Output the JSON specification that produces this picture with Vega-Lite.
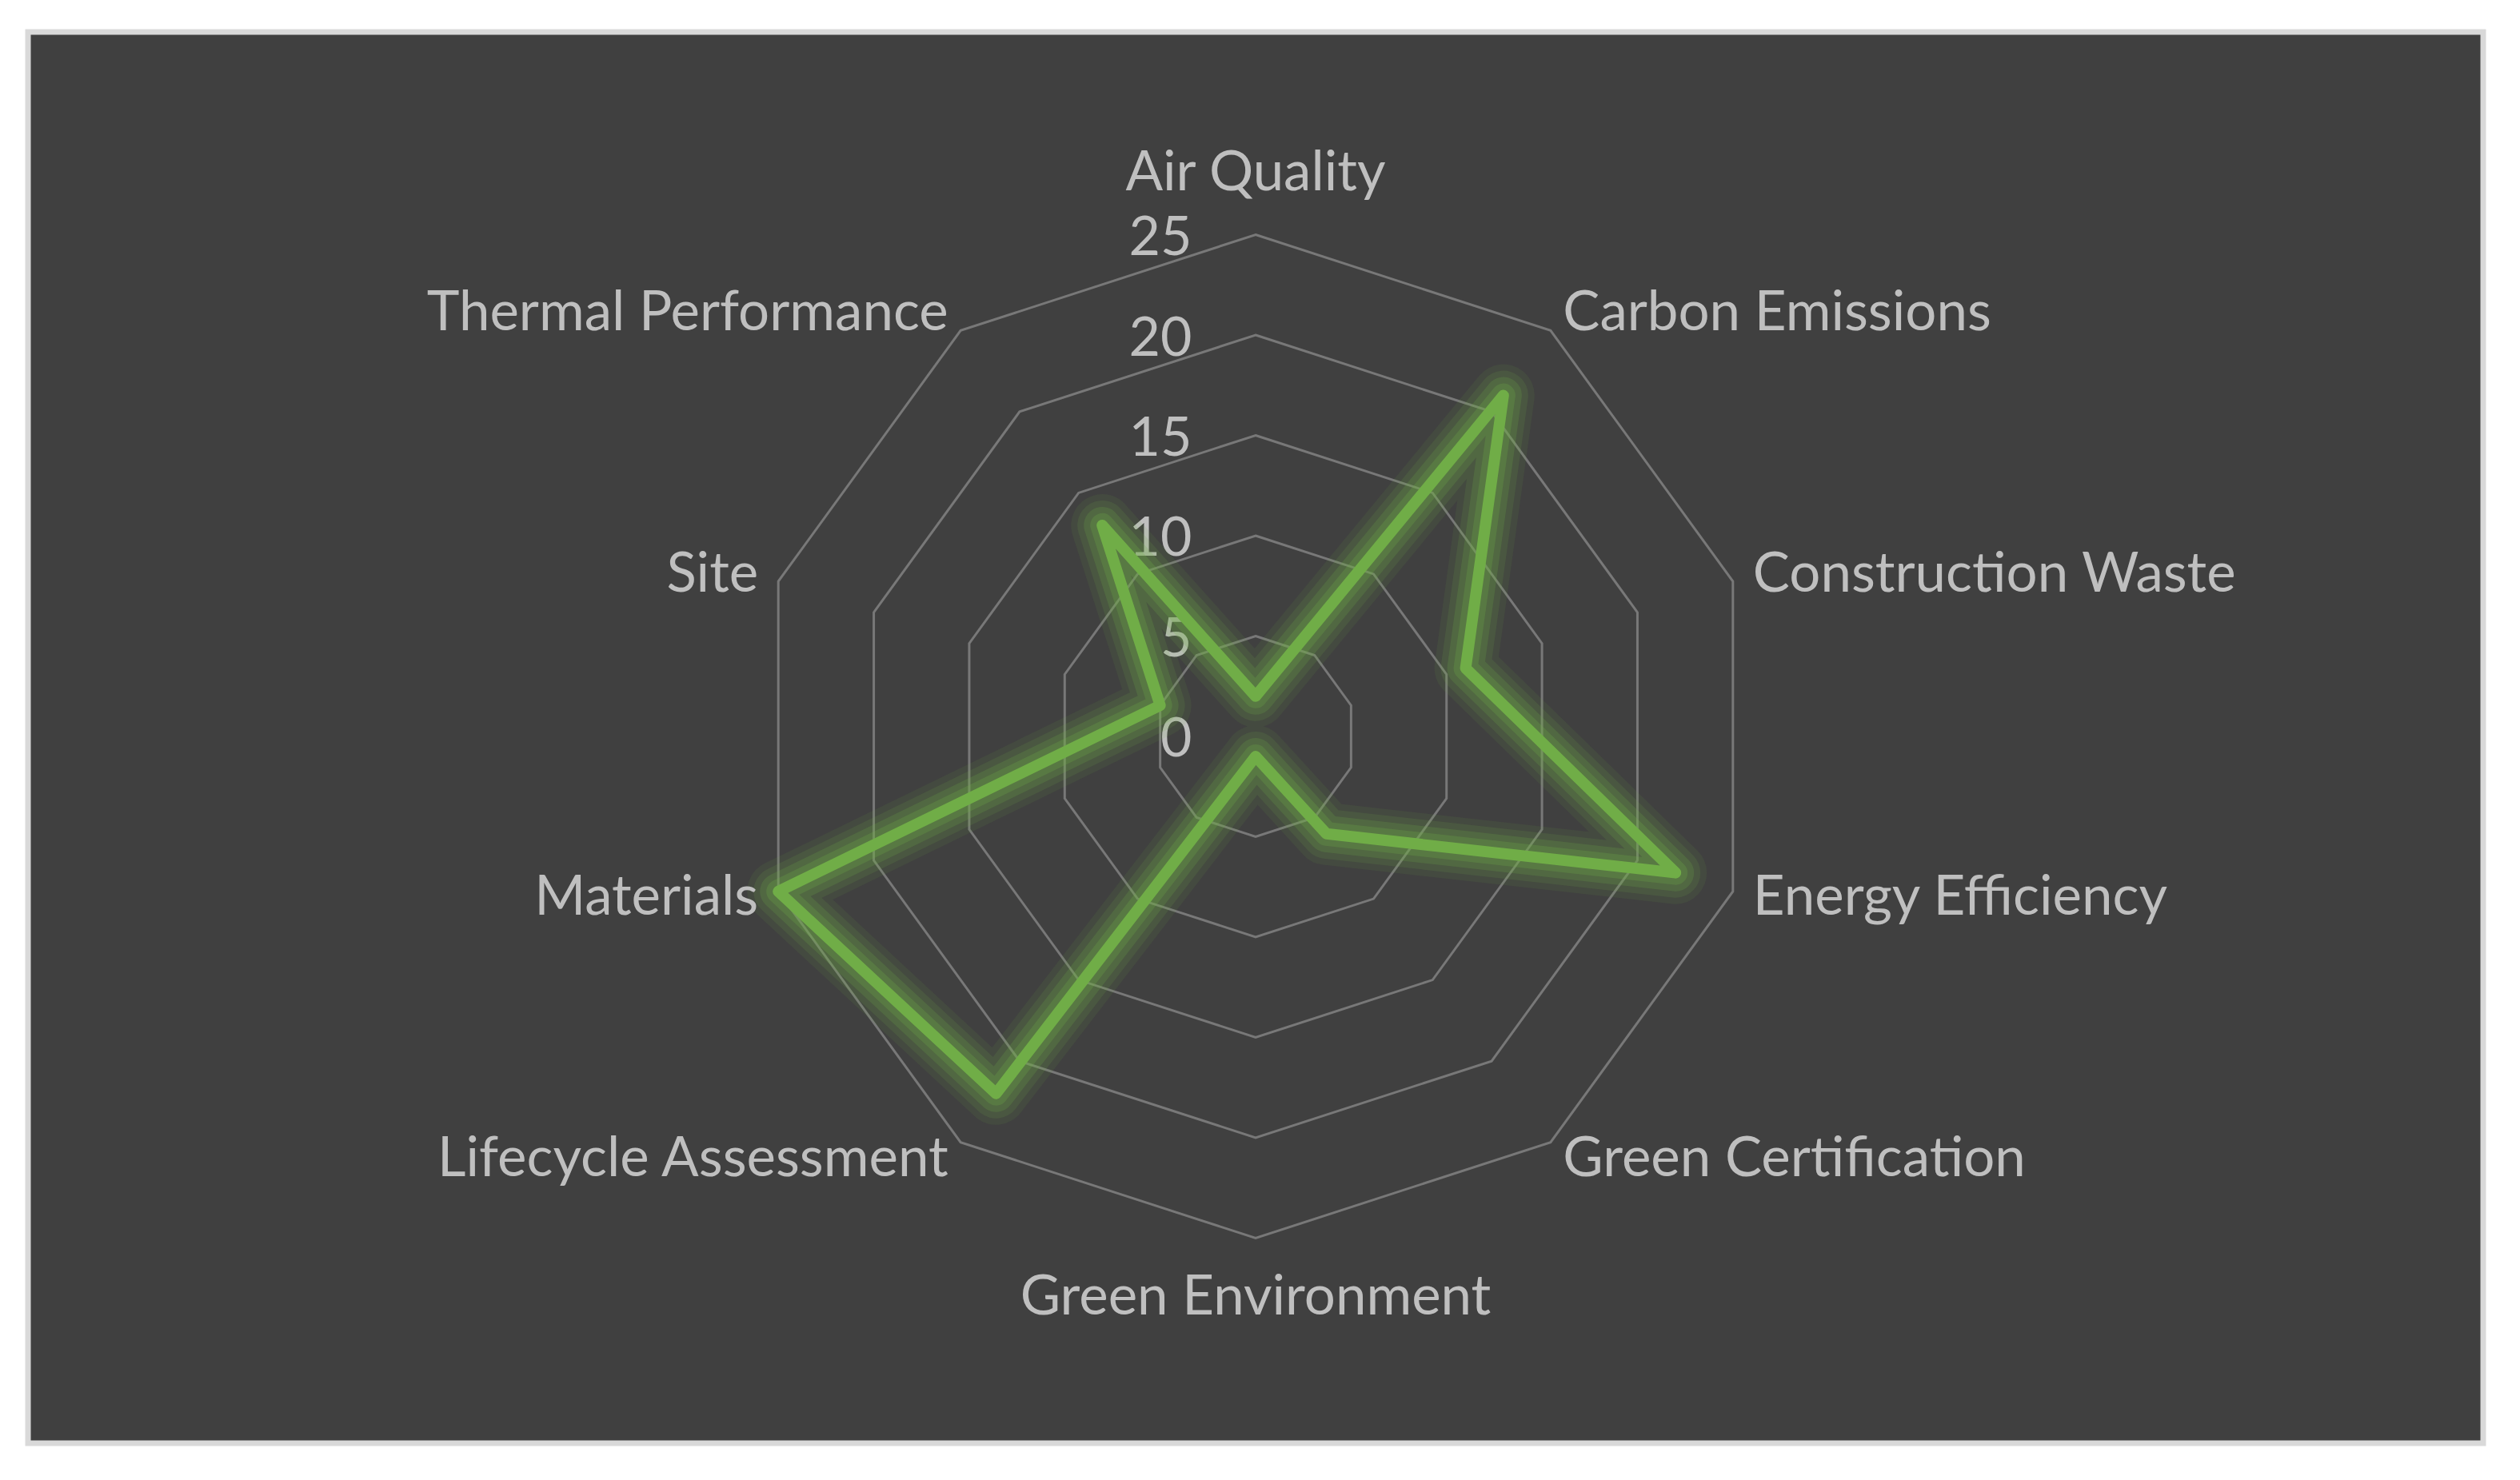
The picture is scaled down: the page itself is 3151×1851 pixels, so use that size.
{
  "$schema": "https://vega.github.io/schema/vega-lite/v6.json",
  "width": 3070,
  "height": 1765,
  "autosize": "none",
  "padding": {"left": 35, "top": 40, "right": 46, "bottom": 46},
  "background": "white",
  "config": {
    "view": {"fill": "#404040", "stroke": "#d9d9d9", "strokeWidth": 7},
    "font": "Lato"
  },
  "data": {
    "values": [
      {"category": "Air Quality", "value": 2},
      {"category": "Carbon Emissions", "value": 21},
      {"category": "Construction Waste", "value": 11},
      {"category": "Energy Efficiency", "value": 22},
      {"category": "Green Certification", "value": 6},
      {"category": "Green Environment", "value": 1},
      {"category": "Lifecycle Assessment", "value": 22},
      {"category": "Materials", "value": 25},
      {"category": "Site", "value": 5},
      {"category": "Thermal Performance", "value": 13}
    ]
  },
  "transform": [
    {"window": [{"op": "row_number", "as": "k"}]},
    {"calculate": "(datum.k - 1) * PI / 5", "as": "ang"}
  ],
  "encoding": {
    "x": {"field": "X", "type": "quantitative", "scale": {"domain": [-61.155, 61.155], "nice": false, "zero": false}, "axis": null},
    "y": {
      "field": "Y", "type": "quantitative",
      "scale": {"domain": [-35.22, 35.1], "nice": false, "zero": false},
      "axis": {
        "values": [0, 5, 10, 15, 20, 25], "orient": "left", "offset": -1535,
        "domain": false, "ticks": false, "tickSize": 0, "grid": false,
        "labelPadding": 80, "labelFontSize": 68, "labelColor": "#bfbfbf",
        "labelOffset": 5, "labelFont": "Lato", "title": null
      }
    }
  },
  "layer": [
    {
      "transform": [
        {"calculate": "[5, 10, 15, 20, 25]", "as": "levels"},
        {"flatten": ["levels"]},
        {"calculate": "datum.levels * sin(datum.ang)", "as": "X"},
        {"calculate": "datum.levels * cos(datum.ang)", "as": "Y"}
      ],
      "mark": {"type": "line", "interpolate": "linear-closed", "stroke": "#787878", "strokeWidth": 3},
      "encoding": {
        "detail": {"field": "levels", "type": "nominal"},
        "order": {"field": "k", "type": "quantitative"}
      }
    },
    {
      "transform": [
        {"calculate": "datum.value * sin(datum.ang)", "as": "X"},
        {"calculate": "datum.value * cos(datum.ang)", "as": "Y"}
      ],
      "mark": {"type": "line", "interpolate": "linear-closed", "stroke": "#70ad47", "strokeWidth": 78, "strokeOpacity": 0.09, "strokeJoin": "round", "strokeCap": "round"},
      "encoding": {"order": {"field": "k", "type": "quantitative"}}
    },
    {
      "transform": [
        {"calculate": "datum.value * sin(datum.ang)", "as": "X"},
        {"calculate": "datum.value * cos(datum.ang)", "as": "Y"}
      ],
      "mark": {"type": "line", "interpolate": "linear-closed", "stroke": "#70ad47", "strokeWidth": 62, "strokeOpacity": 0.14, "strokeJoin": "round", "strokeCap": "round"},
      "encoding": {"order": {"field": "k", "type": "quantitative"}}
    },
    {
      "transform": [
        {"calculate": "datum.value * sin(datum.ang)", "as": "X"},
        {"calculate": "datum.value * cos(datum.ang)", "as": "Y"}
      ],
      "mark": {"type": "line", "interpolate": "linear-closed", "stroke": "#70ad47", "strokeWidth": 46, "strokeOpacity": 0.2, "strokeJoin": "round", "strokeCap": "round"},
      "encoding": {"order": {"field": "k", "type": "quantitative"}}
    },
    {
      "transform": [
        {"calculate": "datum.value * sin(datum.ang)", "as": "X"},
        {"calculate": "datum.value * cos(datum.ang)", "as": "Y"}
      ],
      "mark": {"type": "line", "interpolate": "linear-closed", "stroke": "#70ad47", "strokeWidth": 30, "strokeOpacity": 0.25, "strokeJoin": "round", "strokeCap": "round"},
      "encoding": {"order": {"field": "k", "type": "quantitative"}}
    },
    {
      "transform": [
        {"calculate": "datum.value * sin(datum.ang)", "as": "X"},
        {"calculate": "datum.value * cos(datum.ang)", "as": "Y"}
      ],
      "mark": {"type": "line", "interpolate": "linear-closed", "stroke": "#70ad47", "strokeWidth": 14, "strokeJoin": "round"},
      "encoding": {"order": {"field": "k", "type": "quantitative"}}
    },
    {
      "transform": [
        {"filter": "datum.k == 1"},
        {"calculate": "26.05 * sin(datum.ang)", "as": "X"},
        {"calculate": "26.05 * cos(datum.ang)", "as": "Y"}
      ],
      "mark": {"type": "text", "align": "center", "baseline": "bottom", "dy": -15, "fontSize": 69, "color": "#bfbfbf", "font": "Lato"},
      "encoding": {"text": {"field": "category"}}
    },
    {
      "transform": [
        {"filter": "datum.k == 6"},
        {"calculate": "26.05 * sin(datum.ang)", "as": "X"},
        {"calculate": "26.05 * cos(datum.ang)", "as": "Y"}
      ],
      "mark": {"type": "text", "align": "center", "baseline": "top", "dy": 14, "fontSize": 69, "color": "#bfbfbf", "font": "Lato"},
      "encoding": {"text": {"field": "category"}}
    },
    {
      "transform": [
        {"filter": "datum.k >= 2 && datum.k <= 5"},
        {"calculate": "26.05 * sin(datum.ang)", "as": "X"},
        {"calculate": "26.05 * cos(datum.ang)", "as": "Y"}
      ],
      "mark": {"type": "text", "align": "left", "baseline": "middle", "fontSize": 69, "color": "#bfbfbf", "font": "Lato"},
      "encoding": {"text": {"field": "category"}}
    },
    {
      "transform": [
        {"filter": "datum.k >= 7"},
        {"calculate": "26.05 * sin(datum.ang)", "as": "X"},
        {"calculate": "26.05 * cos(datum.ang)", "as": "Y"}
      ],
      "mark": {"type": "text", "align": "right", "baseline": "middle", "fontSize": 69, "color": "#bfbfbf", "font": "Lato"},
      "encoding": {"text": {"field": "category"}}
    }
  ]
}
